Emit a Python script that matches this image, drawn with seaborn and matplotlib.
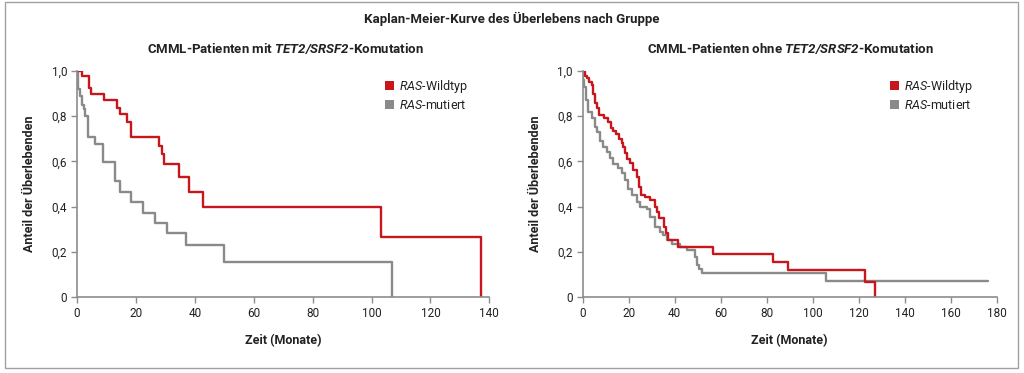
import matplotlib
matplotlib.use("Agg")
import matplotlib.pyplot as plt
import matplotlib.patches as mpatches
import seaborn as sns
import pandas as pd

# ---------------- data ----------------
groups = ["RAS-Wildtyp", "RAS-mutiert"]

# Panel 1: CMML-Patienten mit TET2/SRSF2-Komutation
p1_wt_t = [0, 1.7, 4.0, 4.8, 9.0, 13.6, 14.7, 16.9, 18.3, 28.0, 28.7, 29.7, 34.8, 37.9, 42.9, 103.1, 137.1]
p1_wt_s = [1.0, 0.980, 0.926, 0.898, 0.872, 0.838, 0.810, 0.774, 0.706, 0.668, 0.631, 0.588, 0.529, 0.463, 0.400, 0.267, 0.0]
p1_mut_t = [0, 0.3, 0.9, 1.6, 2.3, 2.8, 3.8, 6.2, 8.8, 12.8, 14.5, 18.4, 22.4, 26.6, 30.6, 37.1, 49.9, 107.0]
p1_mut_s = [1.0, 0.92, 0.89, 0.85, 0.83, 0.80, 0.709, 0.677, 0.599, 0.513, 0.466, 0.419, 0.373, 0.329, 0.285, 0.230, 0.156, 0.0]

# Panel 2: CMML-Patienten ohne TET2/SRSF2-Komutation
p2_wt_t = [0, 1.0, 1.7, 2.9, 3.9, 4.6, 5.4, 6.4, 7.2, 9.3, 11.2, 12.2, 13.3, 14.5, 15.9, 17.0, 17.7, 18.4,
           19.1, 20.6, 22.0, 23.5, 24.5, 25.2, 27.1, 29.3, 31.4, 32.5, 33.2, 35.4, 36.2, 37.2, 41.6, 56.5,
           82.9, 89.4, 123.0, 127.1]
p2_wt_s = [1.0, 0.98, 0.968, 0.95, 0.94, 0.90, 0.857, 0.835, 0.805, 0.79, 0.775, 0.75, 0.734, 0.72, 0.70, 0.68,
           0.662, 0.636, 0.61, 0.592, 0.562, 0.533, 0.488, 0.451, 0.441, 0.43, 0.40, 0.378, 0.35, 0.311, 0.282,
           0.252, 0.222, 0.19, 0.156, 0.118, 0.068, 0.0]
p2_mut_t = [0, 0.1, 0.6, 1.4, 2.5, 3.9, 5.4, 6.4, 7.5, 9.0, 10.4, 11.9, 13.3, 15.5, 17.0, 18.4, 19.9, 21.3,
            23.5, 24.9, 27.8, 29.3, 31.4, 33.6, 35.1, 36.5, 38.7, 42.3, 45.2, 48.8, 49.8, 50.7, 51.7, 106.0, 176.4]
p2_mut_s = [1.0, 0.96, 0.93, 0.87, 0.82, 0.79, 0.754, 0.73, 0.69, 0.665, 0.643, 0.614, 0.589, 0.57, 0.547,
            0.518, 0.48, 0.451, 0.42, 0.40, 0.388, 0.355, 0.311, 0.289, 0.274, 0.252, 0.234, 0.22, 0.21, 0.178,
            0.142, 0.122, 0.105, 0.072, 0.072]

p1_xticks = [0, 20, 40, 60, 80, 100, 120, 140]
p2_xticks = [0, 20, 40, 60, 80, 100, 120, 140, 160, 180]
yticks = [0, 0.2, 0.4, 0.6, 0.8, 1.0]
ytick_labels = ["0", "0,2", "0,4", "0,6", "0,8", "1,0"]

main_title = "Kaplan-Meier-Kurve des Überlebens nach Gruppe"
sub_titles = [r"CMML-Patienten mit $\mathbf{TET2/SRSF2}$-Komutation",
              r"CMML-Patienten ohne $\mathbf{TET2/SRSF2}$-Komutation"]
legend_labels = [r"$\mathit{RAS}$-Wildtyp", r"$\mathit{RAS}$-mutiert"]
xlabel = "Zeit (Monate)"
ylabel = "Anteil der Überlebenden"

# ---------------- style ----------------
sns.set_theme(style="white")
plt.rcParams["font.family"] = ["Roboto", "DejaVu Sans"]
plt.rcParams["mathtext.fontset"] = "custom"
plt.rcParams["mathtext.rm"] = "Roboto"
plt.rcParams["mathtext.it"] = "Roboto:italic"
plt.rcParams["mathtext.bf"] = "Roboto:italic:bold"

RED = "#c8161d"
GRAY = "#8a8a8a"
palette = {groups[0]: RED, groups[1]: GRAY}
SPINE = "#8c8c8c"
TXT = "#222222"

fig = plt.figure(figsize=(10.24, 3.73), dpi=100)

# outer frame
fig.patches.append(mpatches.Rectangle((5 / 1024, 1 - 368 / 373), 1013 / 1024, 366 / 373,
                                      transform=fig.transFigure, fill=False,
                                      edgecolor="#a0a0a0", linewidth=1.0))

bottom = 1 - 297 / 373
height = (297 - 71) / 373
ax1 = fig.add_axes([77 / 1024, bottom, (489.3 - 77) / 1024, height])
ax2 = fig.add_axes([582.7 / 1024, bottom, (996.5 - 582.7) / 1024, height])


def make_df(wt_t, wt_s, mut_t, mut_s):
    return pd.concat([
        pd.DataFrame({"Monate": wt_t, "Anteil": wt_s, "Gruppe": groups[0]}),
        pd.DataFrame({"Monate": mut_t, "Anteil": mut_s, "Gruppe": groups[1]}),
    ], ignore_index=True)


panels = [
    (ax1, make_df(p1_wt_t, p1_wt_s, p1_mut_t, p1_mut_s), p1_xticks, 140, 385),
    (ax2, make_df(p2_wt_t, p2_wt_s, p2_mut_t, p2_mut_s), p2_xticks, 180, 890),
]

for i, (ax, df, xt, xmax, legx) in enumerate(panels):
    sns.lineplot(data=df, x="Monate", y="Anteil", hue="Gruppe", hue_order=groups[::-1],
                 palette=palette, drawstyle="steps-post", estimator=None, sort=False,
                 linewidth=1.7, legend=False, ax=ax)
    ax.set_xlim(0, xmax)
    ax.set_ylim(0, 1.0)
    ax.set_xticks(xt)
    ax.set_xticklabels([str(v) for v in xt])
    ax.set_yticks(yticks)
    ax.set_yticklabels(ytick_labels)
    for s in ["top", "right"]:
        ax.spines[s].set_visible(False)
    for s in ["left", "bottom"]:
        ax.spines[s].set_color(SPINE)
        ax.spines[s].set_linewidth(1.2)
    ax.tick_params(axis="both", which="both", direction="out", length=4, width=1.0,
                   color=SPINE, labelsize=8.5, labelcolor=TXT, pad=3,
                   bottom=True, left=True)
    ax.set_xlabel(xlabel, fontsize=9, fontweight="bold", color=TXT, labelpad=10)
    ax.set_ylabel(ylabel, fontsize=9, fontweight="bold", color=TXT, labelpad=11)
    ax.set_facecolor("white")
    for sp in ax.spines.values():
        sp.set_zorder(3)

    handles = [mpatches.Patch(facecolor=RED, edgecolor="none"),
               mpatches.Patch(facecolor=GRAY, edgecolor="none")]
    ax.legend(handles, legend_labels, loc="upper left",
              bbox_to_anchor=(legx / 1024, 1 - 78 / 373), bbox_transform=fig.transFigure,
              frameon=False, fontsize=9, handlelength=0.75, handleheight=0.75,
              handletextpad=0.35, labelspacing=0.3, borderpad=0, borderaxespad=0,
              labelcolor=TXT)

fig.text(512 / 1024, 1 - 19 / 373, main_title, ha="center", va="center",
         fontsize=9.5, fontweight="bold", color=TXT)
fig.text(285 / 1024, 1 - 48 / 373, sub_titles[0], ha="center", va="center",
         fontsize=9.5, fontweight="bold", color=TXT)
fig.text(790 / 1024, 1 - 48 / 373, sub_titles[1], ha="center", va="center",
         fontsize=9.5, fontweight="bold", color=TXT)

fig.savefig("out.png", dpi=100, facecolor="white")
